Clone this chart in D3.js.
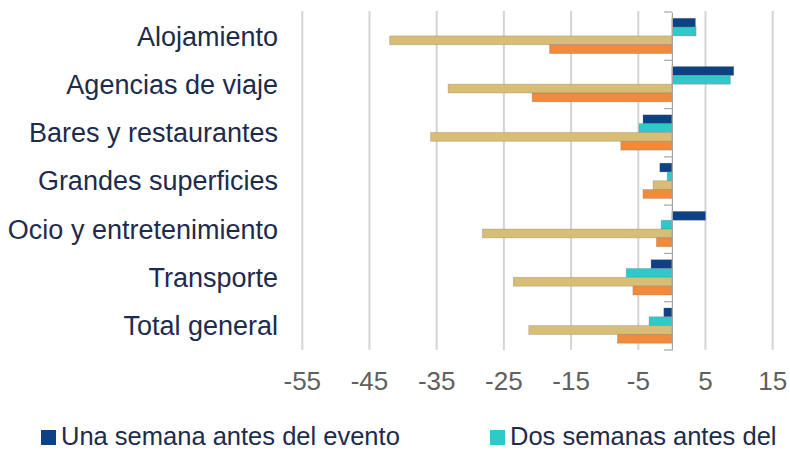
<!DOCTYPE html>
<html>
<head>
<meta charset="utf-8">
<script src="https://cdn.jsdelivr.net/npm/d3@7"></script>
<style>
  body { margin: 0; background: #fff; }
  svg { display: block; font-family: "Liberation Sans", Arial, sans-serif; }
</style>
</head>
<body>
<div id="chart"></div>
<script>
// categories, top to bottom
var categories = ["Alojamiento", "Agencias de viaje", "Bares y restaurantes",
  "Grandes superficies", "Ocio y entretenimiento", "Transporte", "Total general"];

// series values (%), one per category
var unaSemana  = [3.5, 9.2, -4.3, -1.8, 5.0, -3.1, -1.2];
var dosSemanas = [3.6, 8.7, -4.9, -0.7, -1.6, -6.8, -3.4];
var serieTres  = [-42.0, -33.3, -35.9, -2.8, -28.2, -23.6, -21.3];
var serieCuatro = [-18.2, -20.8, -7.6, -4.3, -2.3, -5.8, -8.1];

var seriesKeys = ["s1", "s2", "s3", "s4"];
var seriesColors = ["#0c4283", "#30c9c9", "#d8be75", "#f28a3b"];
var legendLabels = ["Una semana antes del evento", "Dos semanas antes del"];

var tickValues = [-55, -45, -35, -25, -15, -5, 5, 15];

var svgWidth = 790;
var svgHeight = 450;

var data = categories.map(function(c, i) {
  return { cat: c, s1: unaSemana[i], s2: dosSemanas[i], s3: serieTres[i], s4: serieCuatro[i] };
});

var svg = d3.select("#chart")
  .append("svg")
  .attr("width", svgWidth)
  .attr("height", svgHeight);

var xScale = d3.scaleLinear()
  .domain([-55, 15])
  .range([302.3, 772.7]);

var y0 = d3.scaleBand()
  .domain(categories)
  .range([12, 350])
  .padding(0);

var bw = y0.bandwidth();
var y1 = d3.scaleBand()
  .domain(seriesKeys)
  .range([bw * 0.13, bw * 0.86])
  .padding(0);

// vertical gridlines
svg.append("g")
  .selectAll("line")
  .data(tickValues)
  .enter()
  .append("line")
  .attr("x1", d => xScale(d))
  .attr("x2", d => xScale(d))
  .attr("y1", 11)
  .attr("y2", 350)
  .attr("stroke", "#d4d4d4")
  .attr("stroke-width", 2);

// bars
var groups = svg.append("g")
  .selectAll("g")
  .data(data)
  .enter()
  .append("g")
  .attr("transform", d => `translate(0, ${y0(d.cat)})`);

groups.selectAll("rect")
  .data(d => seriesKeys.map((k, j) => ({ key: k, value: d[k], color: seriesColors[j] })))
  .enter()
  .append("rect")
  .attr("x", d => xScale(Math.min(0, d.value)))
  .attr("width", d => Math.abs(xScale(d.value) - xScale(0)))
  .attr("y", d => y1(d.key))
  .attr("height", y1.bandwidth())
  .attr("fill", d => d.color)
  .attr("stroke", "rgba(110,110,110,0.35)")
  .attr("stroke-width", 0.8);

// zero axis with category ticks
var yAxis = d3.axisLeft(y0).tickSize(0).tickFormat("");
var axisG = svg.append("g")
  .attr("transform", `translate(${xScale(0)}, 0)`)
  .call(yAxis);
axisG.select(".domain").attr("stroke", "#a6a6a6").attr("stroke-width", 1.2);

svg.append("g")
  .selectAll("line")
  .data(categories.concat(["end"]))
  .enter()
  .append("line")
  .attr("x1", xScale(0) - 8)
  .attr("x2", xScale(0))
  .attr("y1", (d, i) => 12 + i * bw)
  .attr("y2", (d, i) => 12 + i * bw)
  .attr("stroke", "#a6a6a6")
  .attr("stroke-width", 1.2);

// category labels
svg.append("g")
  .selectAll("text")
  .data(categories)
  .enter()
  .append("text")
  .attr("x", 278)
  .attr("y", d => y0(d) + bw / 2)
  .attr("dy", "0.35em")
  .attr("text-anchor", "end")
  .attr("font-size", "27px")
  .attr("fill", "#1d2b4c")
  .text(d => d);

// x tick labels
svg.append("g")
  .selectAll("text")
  .data(tickValues)
  .enter()
  .append("text")
  .attr("x", d => xScale(d))
  .attr("y", 390)
  .attr("text-anchor", "middle")
  .attr("font-size", "26px")
  .attr("fill", "#606060")
  .text(d => d);

// legend
var legend = svg.append("g")
  .selectAll("g")
  .data(legendLabels)
  .enter()
  .append("g")
  .attr("transform", (d, i) => `translate(${i === 0 ? 41 : 490}, 430)`);

legend.append("rect")
  .attr("width", 15)
  .attr("height", 15)
  .attr("fill", (d, i) => seriesColors[i]);

legend.append("text")
  .attr("x", 20)
  .attr("y", 14.5)
  .attr("font-size", "25.5px")
  .attr("fill", "#1d2b4c")
  .text(d => d);
</script>
</body>
</html>
